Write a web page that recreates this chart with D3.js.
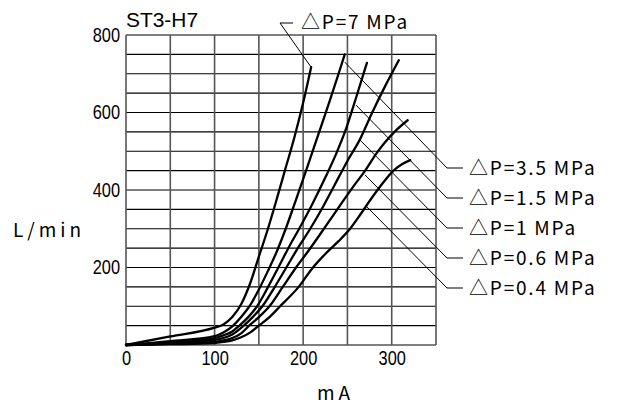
<!DOCTYPE html>
<html><head><meta charset="utf-8">
<script src="https://cdn.jsdelivr.net/npm/d3@7"></script>
<style>
html,body{margin:0;padding:0;background:#fff;}
svg{display:block;}
</style></head>
<body>
<svg id="chart" width="620" height="405"></svg>
<script>
// ---- data ----
const seriesNames = ["△P=7 MPa","△P=3.5 MPa","△P=1.5 MPa","△P=1 MPa","△P=0.6 MPa","△P=0.4 MPa"];
const mA_7   = [0,50,100,110,120,130,140,150,160,170,180,190,200,209];
const L_7    = [0,22,45,53,72,105,158,228,298,375,455,535,625,717];
const mA_3_5 = [0,50,100,110,121,130,140,150,160,170,180,190,200,210,220,230,240,247];
const L_3_5  = [0,10,23,32,50,72,102,143,190,240,298,362,428,495,562,630,700,750];
const mA_1_5 = [0,50,100,110,120,128,138,148,160,172,184,196,210,225,237,248,260,272];
const L_1_5  = [0,7,18,25,35,50,72,100,148,200,253,302,362,432,492,555,640,728];
const mA_1   = [0,50,100,110,120,133,143,154,168,181,194,208,222,236,250,264,278,293,308];
const L_1    = [0,5,13,18,27,50,72,100,150,200,250,300,355,415,475,530,600,670,735];
const mA_0_6 = [0,50,100,110,120,130,139,150,162,177,192,205,218,231,244,257,270,282,292,304,318];
const L_0_6  = [0,3,8,12,18,30,50,72,100,150,200,240,282,325,368,410,450,492,522,552,580];
const mA_0_4 = [0,50,100,110,120,130,140,150,162,174,185,195,210,225,240,253,265,277,290,302,312,321];
const L_0_4  = [0,2,5,8,12,20,32,50,72,100,125,150,197,235,268,300,338,378,418,450,467,477];
// leader anchor points on each curve (mA, L/min)
const anchorMA = [209,247,259.7,264.2,269.8,271.8];
const anchorL  = [717,730,619,529,439,357];
const xTickLabels = [0,100,200,300];
const yTickLabels = [200,400,600,800];
const gridMA = d3.range(0,351,50);
const gridL  = d3.range(0,801,50);
const title = "ST3-H7";
const yTitle = "L/min";
const xTitle = "mA";

// ---- layout ----
const svg = d3.select("#chart");
const x = d3.scaleLinear().domain([0,350]).range([126,436]);
const y = d3.scaleLinear().domain([0,800]).range([345,35]);
const tickFont = "'Liberation Sans',Arimo,sans-serif";
const labelFont = "'Noto Sans CJK JP','Noto Sans',sans-serif";
const squeeze = 0.82;

// grid
svg.append("g").selectAll("line").data(gridL).join("line")
  .attr("x1",x(0)).attr("x2",x(350))
  .attr("y1",d=>y(d)).attr("y2",d=>y(d))
  .attr("stroke","#000").attr("stroke-width",1.1);
svg.append("g").selectAll("line").data(gridMA).join("line")
  .attr("x1",d=>x(d)).attr("x2",d=>x(d))
  .attr("y1",y(0)).attr("y2",y(800))
  .attr("stroke","#555").attr("stroke-width",1.6);

// axes (labels only)
const xAxis = svg.append("g").attr("transform",`translate(0,${y(0)})`)
  .call(d3.axisBottom(x).tickValues(xTickLabels).tickSize(0).tickPadding(6).tickFormat(d3.format("d")));
xAxis.select(".domain").remove();
xAxis.selectAll("text").attr("font-family",tickFont).attr("font-size",20).attr("fill","#000")
  .attr("transform",`scale(${squeeze},1)`);
const yAxis = svg.append("g").attr("transform",`translate(${x(0)},0)`)
  .call(d3.axisLeft(y).tickValues(yTickLabels).tickSize(0).tickFormat(d3.format("d")));
yAxis.select(".domain").remove();
yAxis.selectAll("text").attr("font-family",tickFont).attr("font-size",20).attr("fill","#000")
  .attr("x",-6/squeeze).attr("transform",`scale(${squeeze},1)`);

// titles
svg.append("text").attr("x",126).attr("y",27).text(title)
  .attr("font-family",tickFont).attr("font-size",20)
  .attr("textLength",72).attr("lengthAdjust","spacingAndGlyphs");
svg.append("text").attr("x",13).attr("y",237).text(yTitle)
  .attr("font-family",labelFont).attr("font-size",19).attr("letter-spacing",4);
svg.append("text").attr("x",317).attr("y",400).text(xTitle)
  .attr("font-family",labelFont).attr("font-size",19).attr("letter-spacing",4);

// curves
const series = [[mA_7,L_7],[mA_3_5,L_3_5],[mA_1_5,L_1_5],[mA_1,L_1],[mA_0_6,L_0_6],[mA_0_4,L_0_4]];
const line = d3.line().x(d=>x(d[0])).y(d=>y(d[1])).curve(d3.curveMonotoneX);
svg.append("g").selectAll("path").data(series).join("path")
  .attr("d",s=>line(s[0].map((v,i)=>[v,s[1][i]])))
  .attr("fill","none").attr("stroke","#000").attr("stroke-width",2.3)
  .attr("stroke-linejoin","round").attr("stroke-linecap","round");

// leaders and labels
const lg = svg.append("g");
{
  const ax = x(anchorMA[0]), ay = y(anchorL[0]);
  lg.append("path").attr("d",`M${ax},${ay}L280,23L293,23`)
    .attr("fill","none").attr("stroke","#000").attr("stroke-width",1);
  lg.append("text").attr("x",301).attr("y",29).text(seriesNames[0])
    .attr("font-family",labelFont).attr("font-size",19).attr("letter-spacing",1.8);
}
for(let i=1;i<seriesNames.length;i++){
  const ax = x(anchorMA[i]), ay = y(anchorL[i]);
  const ly = 168 + (i-1)*30;
  lg.append("path").attr("d",`M${ax},${ay}L447,${ly}L463,${ly}`)
    .attr("fill","none").attr("stroke","#000").attr("stroke-width",1);
  lg.append("text").attr("x",469).attr("y",ly+7).text(seriesNames[i])
    .attr("font-family",labelFont).attr("font-size",19).attr("letter-spacing",1.8);
}
</script>
</body></html>
